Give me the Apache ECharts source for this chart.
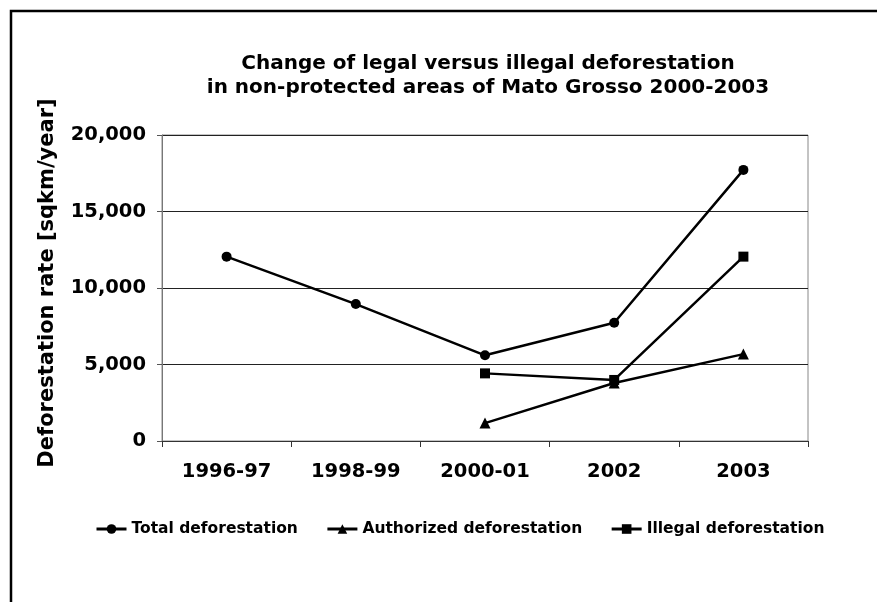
<!DOCTYPE html>
<html>
<head>
<meta charset="utf-8">
<script src="https://cdn.jsdelivr.net/npm/echarts@6/dist/echarts.min.js"></script>
<style>
html,body{margin:0;padding:0;background:#fff;}
#chart{width:877px;height:602px;}
</style>
</head>
<body>
<div id="chart"></div>
<script>
var categories = ['1996-97', '1998-99', '2000-01', '2002', '2003'];
var totalDef = [12050, 8950, 5600, 7730, 17720];
var authorizedDef = [null, null, 1170, 3790, 5680];
var illegalDef = [null, null, 4420, 3990, 12050];
var yTicks = [0, 5000, 10000, 15000, 20000];

var FONT = 'DejaVu Sans';
var chart = echarts.init(document.getElementById('chart'));
function fmt(v){ return v.toLocaleString('en-US'); }
var option = {
  animation: false,
  backgroundColor: '#fff',
  title: {
    text: 'Change of legal versus illegal deforestation\nin non-protected areas of Mato Grosso 2000-2003',
    left: 483, top: 47, textAlign: 'center',
    textStyle: { fontFamily: FONT, fontWeight: 'bold', fontSize: 20, lineHeight: 24, color: '#000' }
  },
  legend: {
    left: 90, top: 516,
    itemWidth: 30, itemHeight: 12, itemGap: 28,
    lineStyle: { width: 3, color: '#000' },
    textStyle: { fontFamily: FONT, fontWeight: 'bold', fontSize: 15.5, color: '#000' },
    data: ['Total deforestation', 'Authorized deforestation', 'Illegal deforestation']
  },
  grid: { left: 162, right: 69, top: 135, bottom: 161, show: true, borderColor: '#888', borderWidth: 1, containLabel: false },
  xAxis: {
    type: 'category', data: categories, boundaryGap: true,
    axisLine: { lineStyle: { color: '#333', width: 1 } },
    axisTick: { show: true, length: 6, lineStyle: { color: '#333' } },
    axisLabel: { margin: 21, fontFamily: FONT, fontWeight: 'bold', fontSize: 19.5, color: '#000' }
  },
  yAxis: {
    type: 'value', min: yTicks[0], max: yTicks[yTicks.length-1], interval: yTicks[1]-yTicks[0],
    name: 'Deforestation rate [sqkm/year]', nameLocation: 'middle', nameGap: 104,
    nameTextStyle: { fontFamily: FONT, fontWeight: 'bold', fontSize: 21, color: '#000', padding: [0, 0, 0, 10] },
    axisLine: { show: true, lineStyle: { color: '#777', width: 1 } },
    axisTick: { show: true, length: 5, lineStyle: { color: '#555' } },
    splitLine: { lineStyle: { color: '#222', width: 1 } },
    axisLabel: { margin: 16, fontFamily: FONT, fontWeight: 'bold', fontSize: 19.5, color: '#000', formatter: fmt }
  },
  graphic: [{
    type: 'rect', shape: { x: 11, y: 11, width: 900, height: 700 },
    style: { fill: 'none', stroke: '#000', lineWidth: 2.5 }, silent: true, z: 100
  }],
  series: [
    { name: 'Total deforestation', type: 'line', data: totalDef, symbol: 'circle', symbolSize: 10,
      lineStyle: { color: '#000', width: 2.5 }, itemStyle: { color: '#000' }, connectNulls: false },
    { name: 'Authorized deforestation', type: 'line', data: authorizedDef, symbol: 'triangle', symbolSize: 11,
      lineStyle: { color: '#000', width: 2.5 }, itemStyle: { color: '#000' } },
    { name: 'Illegal deforestation', type: 'line', data: illegalDef, symbol: 'rect', symbolSize: 10,
      lineStyle: { color: '#000', width: 2.5 }, itemStyle: { color: '#000' } }
  ]
};
chart.setOption(option);
</script>
</body>
</html>
